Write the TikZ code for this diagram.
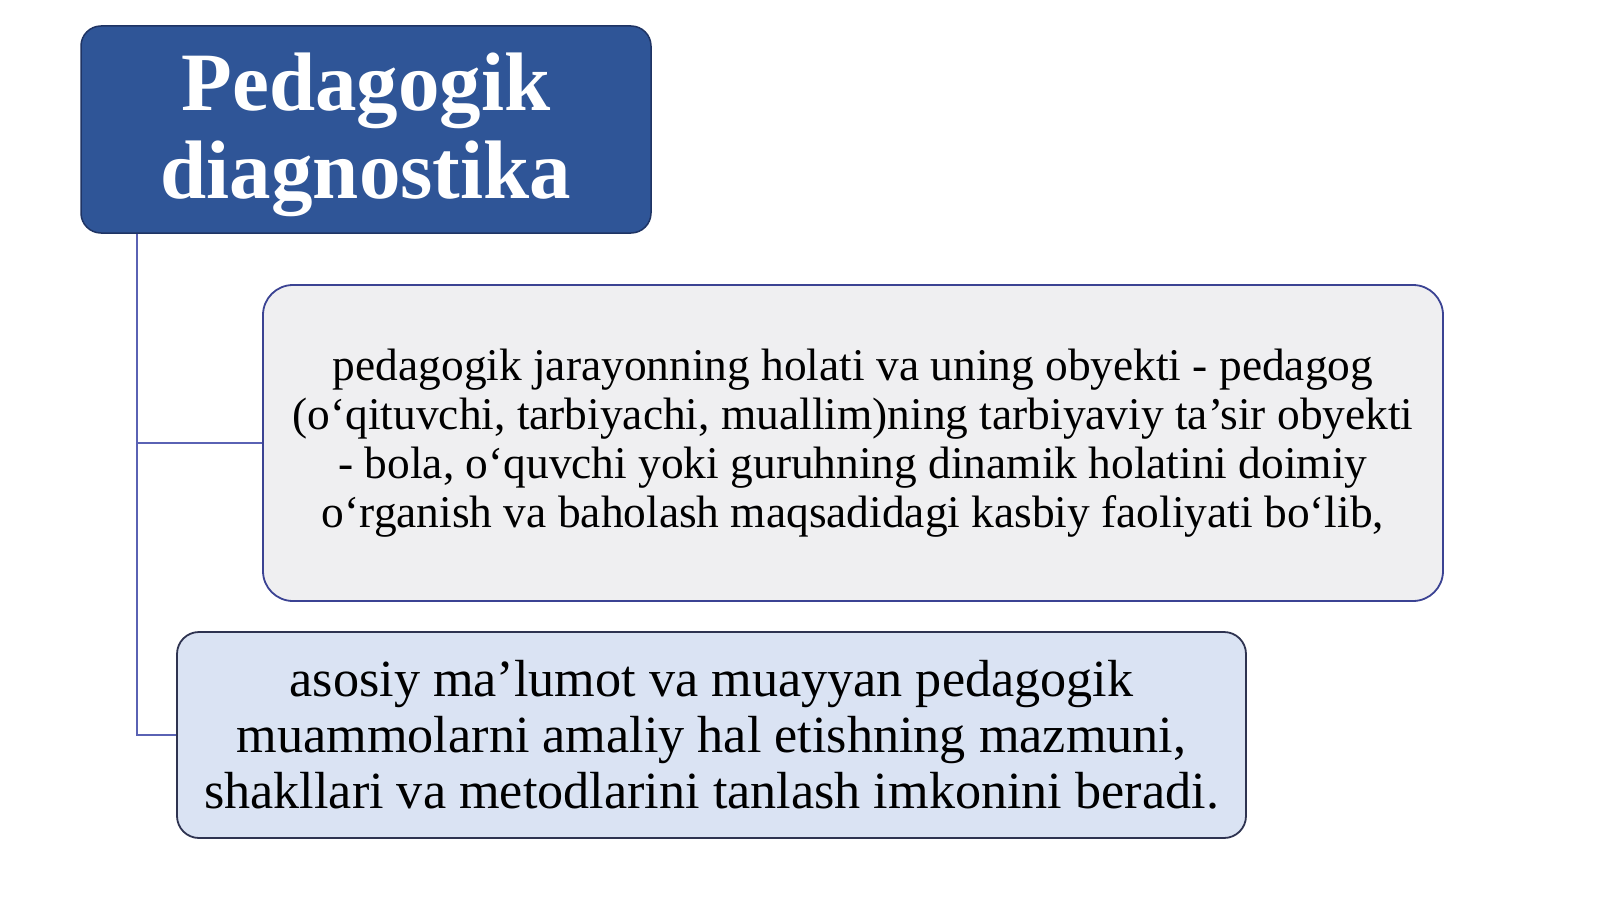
\documentclass[tikz,border=0pt]{standalone}
\usepackage{fontspec}
\setmainfont{Liberation Serif}
\definecolor{titlefill}{HTML}{2F5597}
\definecolor{titleedge}{HTML}{1F3464}
\definecolor{boxonefill}{HTML}{EFEFF1}
\definecolor{boxoneedge}{HTML}{3B4393}
\definecolor{boxtwofill}{HTML}{DAE3F3}
\definecolor{boxtwoedge}{HTML}{2E3350}
\definecolor{linkcol}{HTML}{5A62B4}
\begin{document}
\begin{tikzpicture}[x=1pt,y=-1pt,
  titlebox/.style={draw=titleedge, line width=1.5pt, fill=titlefill, rounded corners=20pt,
    minimum width=570pt, minimum height=207pt, inner sep=0pt},
  titletext/.style={align=center, text=white, inner sep=0pt,
    font=\bfseries\fontsize{83}{88}\selectfont},
  boxone/.style={draw=boxoneedge, line width=1.8pt, fill=boxonefill, rounded corners=30pt,
    minimum width=1180pt, minimum height=316pt, align=center, inner sep=0pt,
    font=\fontsize{45.4}{49}\selectfont},
  boxtwo/.style={draw=boxtwoedge, line width=1.8pt, fill=boxtwofill, rounded corners=22pt,
    minimum width=1069pt, minimum height=206pt, align=center, inner sep=0pt,
    font=\fontsize{52.2}{56}\selectfont},
  link/.style={draw=linkcol, line width=2pt}]
\useasboundingbox[fill=white] (0,0) rectangle (1600,899);
\node[titlebox] (title) at (366,129.5) {};
\node[titletext] (titletxt) at (366,135) {Pedagogik\\diagnostika};
\node[boxone] (b1) at (853,443) {pedagogik jarayonning holati va uning obyekti - pedagog\\(o‘qituvchi, tarbiyachi, muallim)ning tarbiyaviy ta’sir obyekti\\- bola, o‘quvchi yoki guruhning dinamik holatini doimiy\\o‘rganish va baholash maqsadidagi kasbiy faoliyati bo‘lib,};
\node[boxtwo] (b2) at (711.5,735) {asosiy ma’lumot va muayyan pedagogik\\muammolarni amaliy hal etishning mazmuni,\\shakllari va metodlarini tanlash imkonini beradi.};
\coordinate (trunk) at ([xshift=57pt]title.south west);
\draw[link] (trunk) |- (b1.west);
\draw[link] (trunk) |- (b2.west);
\end{tikzpicture}
\end{document}
